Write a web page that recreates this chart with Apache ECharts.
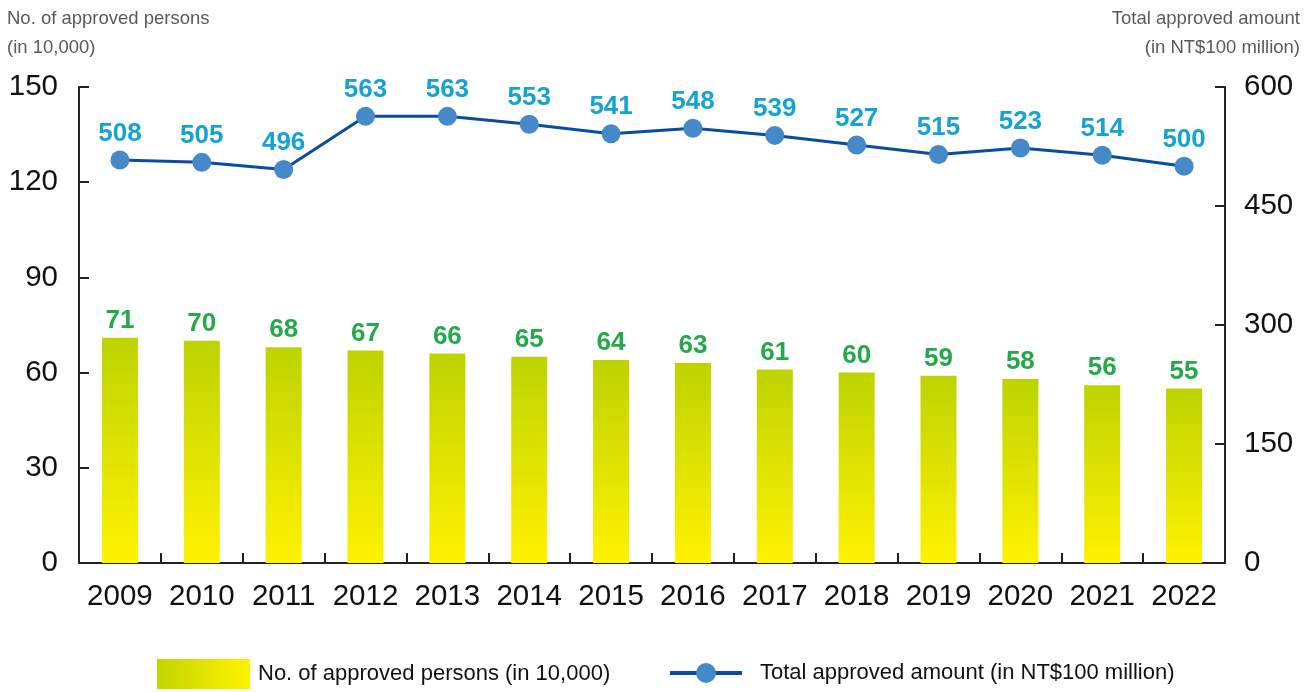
<!DOCTYPE html>
<html>
<head>
<meta charset="utf-8">
<script src="https://cdn.jsdelivr.net/npm/echarts@6/dist/echarts.min.js"></script>
<style>html,body{margin:0;padding:0;background:#fff}#c{width:1311px;height:692px}</style>
</head>
<body>
<div id="c"></div>
<script>
var years = ['2009','2010','2011','2012','2013','2014','2015','2016','2017','2018','2019','2020','2021','2022'];
var persons = [71,70,68,67,66,65,64,63,61,60,59,58,56,55];
var amount = [508,505,496,563,563,553,541,548,539,527,515,523,514,500];
var barName = 'No. of approved persons (in 10,000)';
var lineName = 'Total approved amount (in NT$100 million)';

var chart = echarts.init(document.getElementById('c'));
var font = '"Liberation Sans", Arial, sans-serif';
var axisLine = {show:true, lineStyle:{color:'#222', width:2}};
var tick = {show:true, inside:true, length:10, lineStyle:{color:'#222', width:2}};
chart.setOption({
  animation:false,
  textStyle:{fontFamily:font},
  grid:{left:79, right:86, top:87, bottom:129},
  graphic:[
    {type:'text', x:7, y:4, style:{text:'No. of approved persons\n(in 10,000)', font:'18.5px '+font, fill:'#595959', lineHeight:29, align:'left', verticalAlign:'top'}},
    {type:'text', x:1300, y:4, style:{text:'Total approved amount\n(in NT$100 million)', font:'18.5px '+font, fill:'#595959', lineHeight:29, align:'right', verticalAlign:'top'}}
  ],
  legend:[
    {data:[{name:barName, itemStyle:{color:new echarts.graphic.LinearGradient(0,0,1,0,[{offset:0,color:'#c2d500'},{offset:1,color:'#fff200'}])}}],
     left:157, top:659, padding:0, itemWidth:93, itemHeight:30, icon:'rect',
     textStyle:{fontSize:22, color:'#111', fontFamily:font, padding:[0,0,0,3]}},
    {data:[{name:lineName, lineStyle:{width:4, color:'#0b4c9e'}}], left:668, top:662, padding:0, itemWidth:72, itemHeight:25,
     textStyle:{fontSize:22, color:'#111', fontFamily:font, padding:[0,0,0,13]}}
  ],
  xAxis:{type:'category', data:years, boundaryGap:true,
    axisLine:axisLine,
    axisTick:{show:true, inside:true, length:10, interval:0, lineStyle:{color:'#222', width:2}},
    axisLabel:{fontSize:29.5, color:'#111', margin:19, interval:0}},
  yAxis:[
    {type:'value', min:0, max:150, interval:30, position:'left',
     axisLine:axisLine, axisTick:tick,
     splitLine:{show:false}, axisLabel:{fontSize:29.5, color:'#111', margin:21}},
    {type:'value', min:0, max:600, interval:150, position:'right',
     axisLine:axisLine, axisTick:tick,
     splitLine:{show:false}, axisLabel:{fontSize:29.5, color:'#111', margin:19}}
  ],
  series:[
    {name:barName, type:'bar', data:persons, yAxisIndex:0, barWidth:36,
     itemStyle:{color:new echarts.graphic.LinearGradient(0,0,0,1,[{offset:0,color:'#bdd300'},{offset:1,color:'#fff200'}])},
     label:{show:true, position:'top', distance:4, fontSize:26, fontWeight:'bold', color:'#24a94a', fontFamily:font}},
    {name:lineName, type:'line', data:amount, yAxisIndex:1,
     symbol:'circle', symbolSize:19,
     lineStyle:{color:'#0b4c9e', width:3},
     itemStyle:{color:'#4589c8'},
     label:{show:true, position:'top', distance:4, fontSize:26, fontWeight:'bold', color:'#14a3d3', fontFamily:font}}
  ]
});
</script>
</body>
</html>
